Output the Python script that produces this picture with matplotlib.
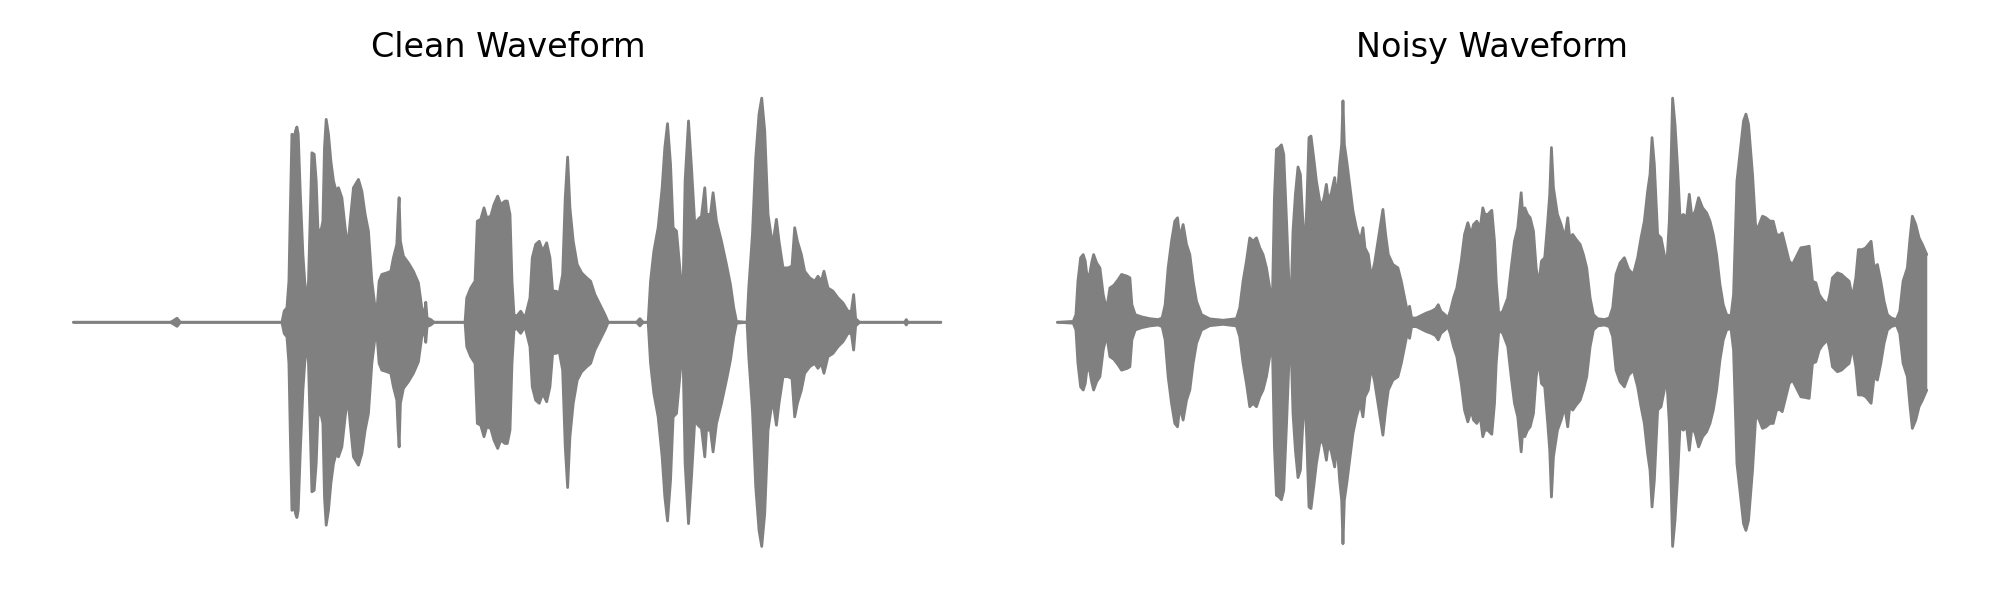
import matplotlib
matplotlib.use("Agg")
import matplotlib.pyplot as plt
import numpy as np

titles = ["Clean Waveform", "Noisy Waveform"]

# Envelope of the clean waveform (time in s, peak amplitude, symmetric about 0)
clean_t = [0.0, 0.97, 1.003, 1.037, 1.07, 2.087, 2.11, 2.137, 2.157, 2.17, 2.187, 2.2, 2.21, 2.223,
           2.237, 2.25, 2.27, 2.297, 2.32, 2.337, 2.353, 2.367, 2.387, 2.41, 2.43, 2.447, 2.47,
           2.497, 2.513, 2.53, 2.553, 2.577, 2.603, 2.63, 2.653, 2.687, 2.72, 2.747, 2.77, 2.803,
           2.853, 2.887, 2.92, 2.953, 2.987, 3.02, 3.037, 3.06, 3.087, 3.137, 3.177, 3.203, 3.237,
           3.25, 3.26, 3.273, 3.303, 3.353, 3.403, 3.453, 3.487, 3.513, 3.527, 3.54, 3.577, 3.61,
           3.92, 3.937, 3.977, 4.02, 4.043, 4.077, 4.11, 4.137, 4.177, 4.21, 4.247, 4.277, 4.32,
           4.343, 4.37, 4.39, 4.41, 4.437, 4.477, 4.52, 4.57, 4.593, 4.627, 4.663, 4.697, 4.737,
           4.77, 4.797, 4.83, 4.863, 4.897, 4.923, 4.947, 4.97, 5.003, 5.043, 5.087, 5.137, 5.177,
           5.22, 5.27, 5.32, 5.353, 5.637, 5.67, 5.703, 5.753, 5.777, 5.81, 5.853, 5.893, 5.92,
           5.947, 5.977, 6.003, 6.037, 6.07, 6.1, 6.123, 6.157, 6.187, 6.22, 6.253, 6.287, 6.32,
           6.337, 6.377, 6.403, 6.437, 6.487, 6.537, 6.577, 6.61, 6.637, 6.743, 6.76, 6.797, 6.83,
           6.863, 6.89, 6.92, 6.953, 6.987, 7.01, 7.037, 7.063, 7.103, 7.153, 7.193, 7.22, 7.247,
           7.287, 7.32, 7.37, 7.42, 7.453, 7.487, 7.513, 7.553, 7.603, 7.653, 7.703, 7.753, 7.787,
           7.81, 7.83, 7.87, 8.32, 8.337, 8.353, 8.683]
clean_amp = [0.0, 0.0, 0.008, 0.018, 0.0, 0.0, 0.05, 0.064, 0.182, 0.478, 0.833, 0.83, 0.81, 0.848,
             0.865, 0.833, 0.581, 0.300, 0.152, 0.108, 0.182, 0.419, 0.751, 0.744, 0.626, 0.419, 0.389,
             0.448, 0.774, 0.899, 0.833, 0.714, 0.626, 0.581, 0.596, 0.552, 0.419, 0.330, 0.448, 0.596,
             0.633, 0.581, 0.478, 0.404, 0.182, 0.064, 0.049, 0.182, 0.212, 0.219, 0.226, 0.286, 0.345,
             0.478, 0.552, 0.359, 0.293, 0.263, 0.226, 0.175, 0.064, 0.034, 0.089, 0.019, 0.012, 0.0,
             0.0, 0.108, 0.152, 0.182, 0.448, 0.456, 0.507, 0.463, 0.470, 0.522, 0.559, 0.522, 0.537,
             0.537, 0.478, 0.182, 0.034, 0.027, 0.049, 0.019, 0.108, 0.286, 0.345, 0.359, 0.315, 0.352,
             0.286, 0.138, 0.138, 0.130, 0.212, 0.552, 0.732, 0.507, 0.359, 0.256, 0.219, 0.197, 0.182,
             0.123, 0.078, 0.034, 0.0, 0.0, 0.016, 0.0, 0.0, 0.182, 0.315, 0.419, 0.596, 0.774,
             0.880, 0.700, 0.419, 0.404, 0.241, 0.093, 0.626, 0.892, 0.685, 0.433, 0.456, 0.470, 0.596,
             0.478, 0.478, 0.574, 0.448, 0.359, 0.256, 0.167, 0.064, 0.004, 0.0, 0.152, 0.389, 0.729,
             0.922, 0.993, 0.848, 0.478, 0.374, 0.374, 0.456, 0.359, 0.241, 0.241, 0.249, 0.419, 0.359,
             0.300, 0.226, 0.197, 0.182, 0.204, 0.182, 0.226, 0.152, 0.138, 0.108, 0.086, 0.049, 0.049,
             0.123, 0.016, 0.0, 0.0, 0.012, 0.0, 0.0]

# Envelope of the noisy waveform
noisy_t = [0.0, 0.158, 0.185, 0.205, 0.232, 0.258, 0.278, 0.298, 0.325, 0.342, 0.362, 0.392, 0.425,
           0.458, 0.492, 0.525, 0.565, 0.608, 0.642, 0.698, 0.725, 0.745, 0.778, 0.842, 0.925, 1.008,
           1.048, 1.078, 1.108, 1.142, 1.175, 1.202, 1.225, 1.258, 1.292, 1.325, 1.358, 1.392, 1.442,
           1.525, 1.658, 1.792, 1.825, 1.858, 1.892, 1.925, 1.958, 1.992, 2.025, 2.058, 2.092, 2.125,
           2.152, 2.172, 2.192, 2.218, 2.242, 2.265, 2.292, 2.322, 2.338, 2.358, 2.382, 2.408, 2.432,
           2.458, 2.478, 2.495, 2.518, 2.538, 2.565, 2.592, 2.625, 2.652, 2.672, 2.692, 2.712, 2.742,
           2.775, 2.798, 2.825, 2.845, 2.858, 2.872, 2.898, 2.925, 2.958, 2.992, 3.032, 3.058, 3.078,
           3.112, 3.142, 3.175, 3.225, 3.258, 3.285, 3.312, 3.358, 3.408, 3.442, 3.475, 3.502, 3.525,
           3.545, 3.592, 3.642, 3.692, 3.742, 3.785, 3.812, 3.838, 3.878, 3.908, 3.932, 3.965, 3.998,
           4.042, 4.075, 4.108, 4.142, 4.165, 4.198, 4.232, 4.258, 4.278, 4.308, 4.348, 4.375, 4.392,
           4.418, 4.458, 4.508, 4.542, 4.575, 4.608, 4.642, 4.658, 4.678, 4.705, 4.732, 4.765, 4.792,
           4.818, 4.845, 4.878, 4.908, 4.928, 4.945, 4.965, 5.005, 5.042, 5.078, 5.108, 5.128, 5.158,
           5.192, 5.232, 5.265, 5.298, 5.332, 5.365, 5.408, 5.475, 5.525, 5.558, 5.592, 5.632, 5.675,
           5.718, 5.765, 5.808, 5.842, 5.875, 5.908, 5.932, 5.952, 5.975, 6.008, 6.042, 6.075, 6.098,
           6.125, 6.142, 6.158, 6.182, 6.208, 6.232, 6.265, 6.298, 6.325, 6.352, 6.385, 6.418, 6.458,
           6.498, 6.532, 6.565, 6.598, 6.632, 6.665, 6.698, 6.742, 6.768, 6.802, 6.835, 6.868, 6.892,
           6.918, 6.958, 6.992, 7.025, 7.058, 7.092, 7.132, 7.165, 7.198, 7.232, 7.255, 7.292, 7.325,
           7.358, 7.392, 7.442, 7.485, 7.525, 7.558, 7.592, 7.625, 7.658, 7.708, 7.732, 7.758, 7.808,
           7.848, 7.885, 7.925, 7.958, 7.992, 8.018, 8.058, 8.092, 8.145, 8.175, 8.208, 8.242, 8.275,
           8.308, 8.348, 8.398, 8.432, 8.465, 8.508, 8.535, 8.558, 8.592, 8.625, 8.658, 8.702]
noisy_amp = [0.0, 0.004, 0.034, 0.182, 0.286, 0.300, 0.271, 0.197, 0.219, 0.263, 0.300, 0.263, 0.241,
             0.123, 0.056, 0.152, 0.164, 0.189, 0.212, 0.204, 0.197, 0.078, 0.034, 0.024, 0.016, 0.012,
             0.019, 0.078, 0.241, 0.359, 0.448, 0.463, 0.374, 0.433, 0.345, 0.300, 0.182, 0.093, 0.034,
             0.015, 0.009, 0.016, 0.064, 0.182, 0.271, 0.374, 0.359, 0.374, 0.330, 0.300, 0.241, 0.152,
             0.108, 0.552, 0.766, 0.774, 0.786, 0.744, 0.463, 0.123, 0.093, 0.404, 0.567, 0.688, 0.655,
             0.433, 0.345, 0.507, 0.818, 0.825, 0.729, 0.626, 0.537, 0.522, 0.559, 0.611, 0.537, 0.574,
             0.641, 0.537, 0.700, 0.788, 0.981, 0.788, 0.707, 0.611, 0.493, 0.419, 0.359, 0.419, 0.330,
             0.300, 0.197, 0.263, 0.404, 0.500, 0.389, 0.300, 0.256, 0.241, 0.182, 0.108, 0.049, 0.071,
             0.019, 0.019, 0.030, 0.041, 0.049, 0.059, 0.078, 0.049, 0.034, 0.019, 0.049, 0.108, 0.152,
             0.271, 0.389, 0.441, 0.389, 0.433, 0.448, 0.419, 0.507, 0.478, 0.478, 0.496, 0.359, 0.182,
             0.034, 0.049, 0.108, 0.241, 0.359, 0.419, 0.574, 0.478, 0.507, 0.478, 0.463, 0.404, 0.241,
             0.167, 0.271, 0.286, 0.448, 0.567, 0.774, 0.596, 0.478, 0.433, 0.374, 0.463, 0.374, 0.389,
             0.367, 0.345, 0.300, 0.241, 0.108, 0.034, 0.016, 0.012, 0.019, 0.064, 0.212, 0.263, 0.286,
             0.234, 0.212, 0.286, 0.374, 0.448, 0.581, 0.655, 0.818, 0.700, 0.389, 0.374, 0.300, 0.241,
             0.448, 0.700, 0.993, 0.877, 0.685, 0.463, 0.478, 0.463, 0.567, 0.463, 0.493, 0.552, 0.507,
             0.485, 0.448, 0.389, 0.300, 0.167, 0.078, 0.034, 0.027, 0.123, 0.626, 0.759, 0.892, 0.922,
             0.877, 0.655, 0.404, 0.433, 0.470, 0.463, 0.448, 0.448, 0.389, 0.386, 0.396, 0.330, 0.271,
             0.256, 0.286, 0.330, 0.333, 0.337, 0.182, 0.175, 0.123, 0.101, 0.078, 0.123, 0.197, 0.219,
             0.212, 0.197, 0.182, 0.108, 0.197, 0.322, 0.322, 0.330, 0.359, 0.241, 0.256, 0.182, 0.093,
             0.034, 0.019, 0.012, 0.049, 0.182, 0.241, 0.374, 0.470, 0.433, 0.374, 0.345, 0.300]

series = [(clean_t, clean_amp), (noisy_t, noisy_amp)]
color = "#808080"

fig, axes = plt.subplots(1, 2, figsize=(10, 3), dpi=200)
fig.subplots_adjust(left=0.015, right=0.985, bottom=0.049, top=0.8767, wspace=0.0293)

for ax, (t, a), title in zip(axes, series, titles):
    t = np.asarray(t)
    a = np.asarray(a)
    ax.fill_between(t, -a, a, color=color, linewidth=0)
    ax.plot(t, a, color=color, linewidth=1.0, solid_capstyle="round", solid_joinstyle="round")
    ax.plot(t, -a, color=color, linewidth=1.0, solid_capstyle="round", solid_joinstyle="round")
    ax.set_xlim(-0.435, 9.135)
    ax.set_ylim(-1.1, 1.1)
    ax.set_title(title, fontsize=12)
    ax.axis("off")

fig.savefig("out.png", dpi=200)
